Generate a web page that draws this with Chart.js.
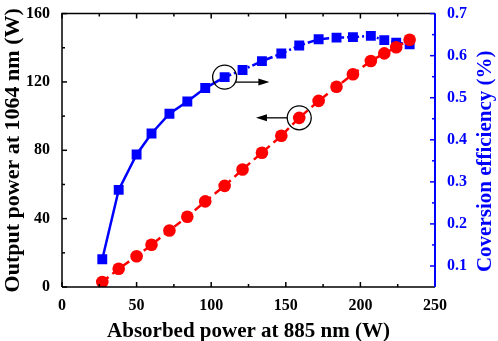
<!DOCTYPE html>
<html>
<head>
<meta charset="utf-8">
<script src="https://cdn.jsdelivr.net/npm/chart.js@4.4.1/dist/chart.umd.min.js"></script>
<style>
  html, body { margin: 0; padding: 0; background: #fff; }
  #wrap { width: 498px; height: 341px; }
</style>
</head>
<body>
<div id="wrap"><canvas id="chart"></canvas></div>
<script>
// absorbed pump power (W) and the two measured curves
const absorbed = [27, 38, 50, 60, 72, 84, 96, 109, 121, 134, 147, 159, 172, 184, 195, 207, 216, 224, 233];
const outputPower = [2.9, 10.7, 18, 24.7, 33.1, 41.1, 50.1, 59.2, 68.8, 78.6, 88.5, 99, 108.9, 117.2, 124.5, 132.3, 136.7, 140.3, 144.7];
const efficiency = [0.116, 0.281, 0.365, 0.415, 0.462, 0.491, 0.523, 0.549, 0.566, 0.587, 0.605, 0.624, 0.639, 0.643, 0.644, 0.647, 0.637, 0.631, 0.627];

// circled points and where their arrows point to (x in W)
const effMark = 7;
const effArrowTo = 139;
const powerMark = 11;
const powerArrowTo = 130;

const rightTitle = 'Coversion efficiency (%)';

const serif = "'Liberation Serif', 'Times New Roman', serif";
const BLUE = '#0000ff';
const RED = '#ff0000';

// frame plus inward major/minor ticks like the origin style plot
const frameTicks = {
    id: 'frameTicks',
    afterDraw(chart) {
        const { ctx, chartArea: a, scales } = chart;
        ctx.save();

        const marks = (scale) => {
            const vals = scale.ticks.map(t => t.value);
            const out = vals.map(v => ({ v, major: true }));
            for (let i = 0; i < vals.length - 1; i++) {
                out.push({ v: (vals[i] + vals[i + 1]) / 2, major: false });
            }
            return out;
        };

        ctx.lineWidth = 1.5;
        ctx.strokeStyle = '#000';
        marks(scales.x).forEach(m => {
            const px = scales.x.getPixelForValue(m.v);
            const len = m.major ? 5 : 3;
            ctx.beginPath();
            ctx.moveTo(px, a.bottom); ctx.lineTo(px, a.bottom - len);
            ctx.moveTo(px, a.top); ctx.lineTo(px, a.top + len);
            ctx.stroke();
        });
        marks(scales.y).forEach(m => {
            const py = scales.y.getPixelForValue(m.v);
            ctx.beginPath();
            ctx.moveTo(a.left, py); ctx.lineTo(a.left + (m.major ? 5 : 3), py);
            ctx.stroke();
        });

        ctx.beginPath();
        ctx.moveTo(a.left, a.bottom); ctx.lineTo(a.left, a.top); ctx.lineTo(a.right, a.top);
        ctx.moveTo(a.left, a.bottom); ctx.lineTo(a.right, a.bottom);
        ctx.stroke();

        ctx.strokeStyle = BLUE;
        ctx.lineWidth = 2;
        ctx.beginPath();
        ctx.moveTo(a.right, a.top); ctx.lineTo(a.right, a.bottom);
        ctx.stroke();
        ctx.lineWidth = 1.5;
        marks(scales.y1).forEach(m => {
            const py = scales.y1.getPixelForValue(m.v);
            ctx.beginPath();
            ctx.moveTo(a.right, py); ctx.lineTo(a.right - (m.major ? 5 : 3), py);
            ctx.stroke();
        });

        // right axis title reads bottom to top, same as the left one
        ctx.fillStyle = BLUE;
        ctx.font = `bold 21px ${serif}`;
        ctx.textAlign = 'center';
        ctx.textBaseline = 'middle';
        ctx.translate(486, (a.top + a.bottom) / 2 + 11);
        ctx.rotate(-Math.PI / 2);
        ctx.fillText(rightTitle, 0, 0);
        ctx.restore();
    }
};

// the two circles with arrows telling which axis each curve belongs to
const callouts = {
    id: 'callouts',
    afterDatasetsDraw(chart) {
        const { ctx, scales: { x, y, y1 } } = chart;
        const r = 12;

        function arrow(x0, yy, x1) {
            const dir = Math.sign(x1 - x0);
            ctx.beginPath();
            ctx.moveTo(x0, yy); ctx.lineTo(x1 - dir * 8, yy);
            ctx.stroke();
            ctx.beginPath();
            ctx.moveTo(x1, yy);
            ctx.lineTo(x1 - dir * 11, yy - 3.5);
            ctx.lineTo(x1 - dir * 11, yy + 3.5);
            ctx.closePath();
            ctx.fill();
        }

        ctx.save();
        ctx.strokeStyle = '#000';
        ctx.fillStyle = '#000';
        ctx.lineWidth = 1.3;

        const ex = x.getPixelForValue(absorbed[effMark]);
        const ey = y1.getPixelForValue(efficiency[effMark]);
        ctx.beginPath(); ctx.arc(ex, ey, r, 0, Math.PI * 2); ctx.stroke();
        arrow(ex + r - 1, ey + 5, x.getPixelForValue(effArrowTo));

        const px = x.getPixelForValue(absorbed[powerMark]);
        const py = y.getPixelForValue(outputPower[powerMark]);
        ctx.beginPath(); ctx.arc(px, py, r, 0, Math.PI * 2); ctx.stroke();
        arrow(px - r, py, x.getPixelForValue(powerArrowTo));
        ctx.restore();
    }
};

new Chart(document.getElementById('chart'), {
    type: 'line',
    data: {
        datasets: [
            {
                label: 'Output power',
                data: absorbed.map((v, i) => ({ x: v, y: outputPower[i] })),
                yAxisID: 'y',
                borderColor: RED,
                backgroundColor: RED,
                borderWidth: 2.5,
                borderDash: [8, 5],
                pointStyle: 'circle',
                pointRadius: 6.3,
                pointBorderWidth: 0,
                tension: 0
            },
            {
                label: 'Conversion efficiency',
                data: absorbed.map((v, i) => ({ x: v, y: efficiency[i] })),
                yAxisID: 'y1',
                borderColor: BLUE,
                backgroundColor: BLUE,
                borderWidth: 2.5,
                segment: {
                    borderDash: c => c.p0DataIndex >= effMark ? [7, 3, 2, 3] : undefined
                },
                pointStyle: 'rect',
                pointRadius: 7,
                pointBorderWidth: 0,
                tension: 0
            }
        ]
    },
    options: {
        responsive: true,
        maintainAspectRatio: false,
        animation: false,
        devicePixelRatio: 1,
        layout: { padding: { top: 8 } },
        plugins: {
            legend: { display: false },
            tooltip: { enabled: false }
        },
        scales: {
            x: {
                type: 'linear',
                min: 0,
                max: 250,
                grid: { display: false },
                border: { display: false },
                ticks: {
                    stepSize: 50,
                    padding: 1,
                    color: '#000',
                    font: { family: serif, size: 16, weight: 'bold' }
                },
                title: {
                    display: true,
                    text: 'Absorbed power at 885 nm (W)',
                    color: '#000',
                    padding: { top: 0, bottom: -3 },
                    font: { family: serif, size: 21, weight: 'bold' }
                },
                afterFit: s => { s.height = 54; }
            },
            y: {
                position: 'left',
                min: 0,
                max: 160,
                grid: { display: false },
                border: { display: false },
                ticks: {
                    stepSize: 40,
                    padding: 4,
                    color: '#000',
                    font: { family: serif, size: 16, weight: 'bold' }
                },
                title: {
                    display: true,
                    text: 'Output power at 1064 nm (W)',
                    color: '#000',
                    padding: 0,
                    font: { family: serif, size: 22, weight: 'bold' }
                },
                afterFit: s => { s.width = 62; }
            },
            y1: {
                position: 'right',
                min: 0.05,
                max: 0.7,
                grid: { display: false },
                border: { display: false },
                ticks: {
                    stepSize: 0.1,
                    includeBounds: false,
                    padding: 4,
                    color: BLUE,
                    font: { family: serif, size: 16, weight: 'bold' },
                    callback: v => v.toFixed(1)
                },
                afterFit: s => { s.width = 63; }
            }
        }
    },
    plugins: [frameTicks, callouts]
});
</script>
</body>
</html>
